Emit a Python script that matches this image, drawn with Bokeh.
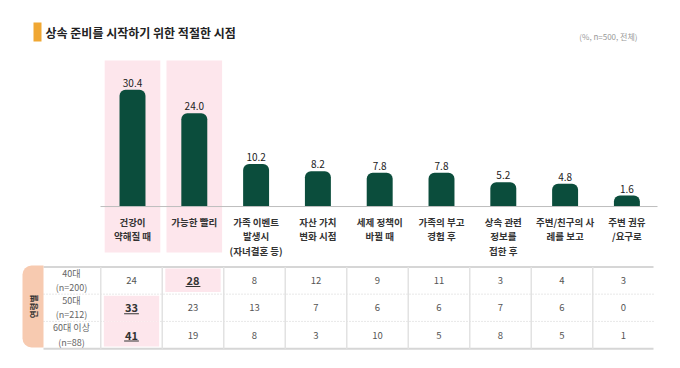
import math
from bokeh.plotting import figure
from bokeh.models import Range1d, ColumnDataSource
from bokeh.core.properties import value
from bokeh.embed import file_html
from bokeh.resources import INLINE

# ---------------- data ----------------
title = "상속 준비를 시작하기 위한 적절한 시점"
subtitle = "(%, n=500, 전체)"
categories = [
    "건강이\n약해질 때",
    "가능한 빨리",
    "가족 이벤트\n발생시\n(자녀결혼 등)",
    "자산 가치\n변화 시점",
    "세제 정책이\n바뀔 때",
    "가족의 부고\n경험 후",
    "상속 관련\n정보를\n접한 후",
    "주변/친구의 사\n례를 보고",
    "주변 권유\n/요구로",
]
values = [30.4, 24.0, 10.2, 8.2, 7.8, 7.8, 5.2, 4.8, 1.6]
highlight_cols = [0, 1]

group_title = "연령별"
row_labels = ["40대", "50대", "60대 이상"]
row_ns = ["(n=200)", "(n=212)", "(n=88)"]
row_40 = [24, 28, 8, 12, 9, 11, 3, 4, 3]
row_50 = [33, 23, 13, 7, 6, 6, 7, 6, 0]
row_60 = [41, 19, 8, 3, 10, 5, 8, 5, 1]
table = [row_40, row_50, row_60]
highlight_cells = [(0, 1), (1, 0), (2, 0)]

# ---------------- styles ----------------
FONT = value("Noto Sans CJK KR")
GREEN = "#0b4d3c"
PINK = "#fde6ec"
ORANGE = "#f0a733"
PEACH = "#f7cab0"
BASE = -1.4

W, H = 664, 352
p = figure(width=W, height=H, x_range=Range1d(0, W), y_range=Range1d(H, 0),
           output_backend="svg", toolbar_location=None, min_border=0,
           x_axis_location=None, y_axis_location=None)
p.grid.visible = False
p.outline_line_color = None
p.background_fill_color = "white"
p.border_fill_color = "white"

p.extra_x_ranges = {
    "bx": Range1d(-132 / 61.8, (W - 132) / 61.8),
    "tx": Range1d(-131 / 61.5, (W - 131) / 61.5),
}
p.extra_y_ranges = {
    "v": Range1d(-(H - 200.9) / 3.67, 200.9 / 3.67),
    "ty": Range1d((H - 280) / 27.25, -280 / 27.25),
}

idx = list(range(len(values)))

# title
p.quad(left=[33], right=[41], top=[22], bottom=[41], fill_color=ORANGE, line_color=None)
p.text(x=[45], y=[32], text=[title], text_font=FONT, text_font_style="bold",
       text_font_size="12px", text_color="#222222", text_baseline="middle")
p.text(x=[637], y=[36], text=[subtitle], text_font=FONT, text_font_size="8px",
       text_color="#999999", text_baseline="middle", text_align="right")

# pink highlight columns
p.quad(left=[i - 0.45 for i in highlight_cols], right=[i + 0.45 for i in highlight_cols],
       top=[60] * len(highlight_cols), bottom=[252] * len(highlight_cols),
       x_range_name="bx", fill_color=PINK, line_color=None)

# bars
src = ColumnDataSource(dict(x=idx, top=values, lab=[f"{v:.1f}" for v in values]))
p.vbar(x="x", top="top", bottom=BASE, width=0.42, source=src, x_range_name="bx",
       y_range_name="v", fill_color=GREEN, line_color=None, border_radius=(6, 6, 0, 0))
p.segment(x0=[100], x1=[657], y0=[BASE], y1=[BASE], y_range_name="v",
          line_color="#bdbdbd", line_width=1)
p.text(x="x", y="top", text="lab", source=src, x_range_name="bx", y_range_name="v",
       text_align="center", text_baseline="bottom", y_offset=-3, text_font=FONT,
       text_font_size="10px", text_color="#222222")

# category labels, line by line
split = [c.split("\n") for c in categories]
maxl = max(len(s) for s in split)
for k in range(maxl):
    xs = [i for i, s in enumerate(split) if len(s) > k]
    ts = [s[k] for s in split if len(s) > k]
    p.text(x=xs, y=[214] * len(xs), text=ts, x_range_name="bx", y_offset=k * 14.8,
           text_align="center", text_baseline="top", text_font=FONT,
           text_font_style="bold", text_font_size="9.5px", text_color="#333333")

# table lines
nrows = len(table)
ncols = len(values)
p.segment(x0=[43] * 2, x1=[653] * 2, y0=[-0.5, nrows - 0.5], y1=[-0.5, nrows - 0.5],
          y_range_name="ty", line_color="#d6d6d6", line_width=2)
p.segment(x0=[43] * (nrows - 1), x1=[653] * (nrows - 1),
          y0=[r + 0.5 for r in range(nrows - 1)], y1=[r + 0.5 for r in range(nrows - 1)],
          y_range_name="ty", line_color="#d0d0d0", line_width=1, line_dash="1 2")
p.segment(x0=[c - 0.5 for c in range(ncols)], x1=[c - 0.5 for c in range(ncols)],
          y0=[-0.5] * ncols, y1=[nrows - 0.5] * ncols, x_range_name="tx",
          y_range_name="ty", line_color="#e2e2e2", line_width=1.5)

# highlighted cells
hs = set(highlight_cells)
hl, hr, ht, hb = [], [], [], []
for r, c in highlight_cells:
    hl.append(c - 0.45)
    hr.append(c + 0.45)
    ht.append(r - (0.5 if (r - 1, c) in hs else 0.44))
    hb.append(r + (0.5 if (r + 1, c) in hs else 0.42))
p.quad(left=hl, right=hr, top=ht, bottom=hb, x_range_name="tx", y_range_name="ty",
       fill_color=PINK, line_color=None)

# peach group label
p.quad(left=[22], right=[43], top=[265], bottom=[347], fill_color=PEACH, line_color=None,
       border_radius=(9, 0, 0, 9))
p.text(x=[32.5], y=[306], text=[group_title], angle=math.pi / 2, text_font=FONT,
       text_font_style="bold", text_font_size="8.5px", text_color="#333333",
       text_align="center", text_baseline="middle")

# row labels
p.text(x=[71] * nrows, y=list(range(nrows)), text=row_labels, y_range_name="ty",
       y_offset=-7.5, text_align="center", text_baseline="middle", text_font=FONT,
       text_font_size="9px", text_color="#666666")
p.text(x=[71] * nrows, y=list(range(nrows)), text=row_ns, y_range_name="ty",
       y_offset=7, text_align="center", text_baseline="middle", text_font=FONT,
       text_font_size="9px", text_color="#666666")

# cell values
nx, ny, nt, bx_, by_, bt = [], [], [], [], [], []
for r, row in enumerate(table):
    for c, v in enumerate(row):
        if (r, c) in hs:
            bx_.append(c); by_.append(r); bt.append(str(v))
        else:
            nx.append(c); ny.append(r); nt.append(str(v))
p.text(x=nx, y=ny, text=nt, x_range_name="tx", y_range_name="ty", text_align="center",
       text_baseline="middle", text_font=FONT, text_font_size="9.5px", text_color="#555555")
p.text(x=bx_, y=by_, text=bt, x_range_name="tx", y_range_name="ty", text_align="center",
       text_baseline="middle", text_font=FONT, text_font_style="bold",
       text_font_size="11px", text_color="#333333")
p.segment(x0=[c - 0.12 for c in bx_], x1=[c + 0.12 for c in bx_],
          y0=[r + 0.22 for r in by_], y1=[r + 0.22 for r in by_],
          x_range_name="tx", y_range_name="ty", line_color="#333333", line_width=1.2)

open("out.html", "w").write(file_html(p, INLINE))
